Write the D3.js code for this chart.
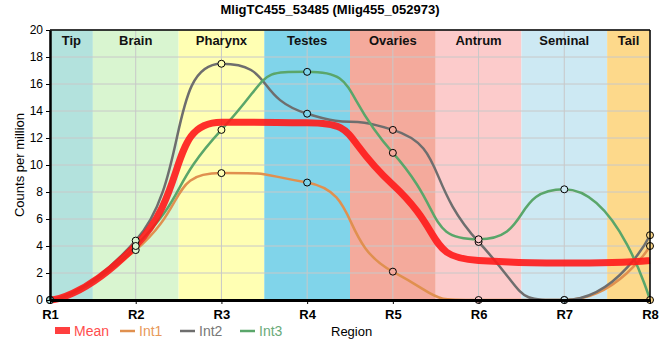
<!DOCTYPE html>
<html><head><meta charset="utf-8">
<script src="https://cdn.jsdelivr.net/npm/d3@7"></script>
<style>body{margin:0;background:#fff}svg{font-family:"Liberation Sans",Arial,sans-serif}</style>
</head><body><svg id="c" width="660" height="360"></svg>
<script>
const title = "MligTC455_53485 (Mlig455_052973)";
const positions = ["R1","R2","R3","R4","R5","R6","R7","R8"];
const regions = ["Tip","Brain","Pharynx","Testes","Ovaries","Antrum","Seminal","Tail"];
const regionColors = ["#b3e2dd","#d9f5d0","#ffffb3","#80d4ea","#f4aa9c","#fccbcb","#cde9f3","#fdd98b"];
const int1 = [0, 3.7, 9.4, 8.7, 2.1, 0, 0, 4.0];
const int2 = [0, 4.4, 17.5, 13.8, 12.6, 4.3, 0, 4.8];
const int3 = [0, 4.0, 12.6, 16.9, 10.9, 4.5, 8.2, 0];
const mean = int1.map((v,i)=>(v+int2[i]+int3[i])/3);
const yTicks = [0,2,4,6,8,10,12,14,16,18,20];

// spline curve: tangent through neighbours, flattened at extremes, control points at fraction K of interval
const K = 0.62, SF = 1.15;
function SplineCurve(context){ this._context = context; }
SplineCurve.prototype = {
  areaStart(){}, areaEnd(){},
  lineStart(){ this._pts = []; },
  point(x,y){ this._pts.push([+x,+y]); },
  lineEnd(){
    const p = this._pts, n = p.length, ctx = this._context;
    if(!n) return;
    const lc = new Array(n), rc = new Array(n);
    for(let i=0;i<n;i++){
      const [px,py] = p[i];
      if(i===0 || i===n-1){ lc[i]=[px,py]; rc[i]=[px,py]; continue; }
      const [lx,ly] = p[i-1], [nx,ny] = p[i+1];
      const s = SF*(ny-ly)/(nx-lx);
      let lcx = px - K*(px-lx), rcx = px + K*(nx-px);
      let lcy = py - s*(px-lcx), rcy = py + s*(rcx-px);
      if((lcy > ly && lcy > py) || (lcy < ly && lcy < py)){ lcy = (lcy>py)? Math.max(ly,py):Math.min(ly,py); rcy = py - (lcy-py)*(rcx-px)/(px-lcx); }
      if((rcy > ny && rcy > py) || (rcy < ny && rcy < py)){ rcy = (rcy>py)? Math.max(ny,py):Math.min(ny,py); lcy = py - (rcy-py)*(px-lcx)/(rcx-px); }
      lc[i]=[lcx,lcy]; rc[i]=[rcx,rcy];
    }
    ctx.moveTo(p[0][0], p[0][1]);
    for(let i=1;i<n;i++){
      ctx.bezierCurveTo(rc[i-1][0], rc[i-1][1], lc[i][0], lc[i][1], p[i][0], p[i][1]);
    }
  }
};
const splineCurve = ctx => new SplineCurve(ctx);

const svg = d3.select("#c");
const L=50,R=650,T=30,B=300;
const x = d3.scalePoint().domain(positions).range([L,R]);
const xi = d3.scaleLinear().domain([0,7]).range([L,R]);
const y = d3.scaleLinear().domain([0,20]).range([B,T]);

regions.forEach((r,i)=>{
  const x0 = Math.max(L, xi(i-0.5)), x1 = Math.min(R, xi(i+0.5));
  svg.append("rect").attr("x",x0).attr("y",T).attr("width",x1-x0).attr("height",B-T).attr("fill",regionColors[i]);
});
svg.append("g").selectAll("line").data(yTicks).join("line")
  .attr("x1",L).attr("x2",R).attr("y1",d=>y(d)).attr("y2",d=>y(d)).attr("stroke","#c8c8c8").attr("stroke-width",1);
svg.append("g").selectAll("line").data(positions).join("line")
  .attr("x1",d=>x(d)).attr("x2",d=>x(d)).attr("y1",T).attr("y2",B).attr("stroke","#c8c8c8").attr("stroke-width",1);
regions.forEach((r,i)=>{
  const x0 = Math.max(L, xi(i-0.5)), x1 = Math.min(R, xi(i+0.5));
  svg.append("text").attr("x",(x0+x1)/2).attr("y",T+15).attr("text-anchor","middle")
    .attr("font-size",13).attr("font-weight","bold").attr("fill","#111").text(r);
});

const line = d3.line().x((d,i)=>x(positions[i])).y(d=>y(d)).curve(splineCurve);
const series = [
  {name:"Int1", data:int1, color:"#e0904f", text:"#e8995a"},
  {name:"Int2", data:int2, color:"#6e6e6e", text:"#777777"},
  {name:"Int3", data:int3, color:"#5aa66a", text:"#6aaa7a"}
];
series.forEach(s=>{
  svg.append("path").attr("d",line(s.data)).attr("fill","none").attr("stroke",s.color).attr("stroke-width",2.5);
});
svg.append("path").attr("d",line(mean)).attr("fill","none").attr("stroke","#ff1a1a").attr("stroke-opacity",0.9).attr("stroke-width",7);
series.forEach(s=>{
  svg.append("g").selectAll("circle").data(s.data).join("circle")
    .attr("cx",(d,i)=>x(positions[i])).attr("cy",d=>y(d)).attr("r",3.5)
    .attr("fill",(d,i)=>regionColors[i]).attr("stroke","#000").attr("stroke-width",1);
});

svg.append("line").attr("x1",L).attr("x2",R).attr("y1",T).attr("y2",T).attr("stroke","#000").attr("stroke-width",1.5);
svg.append("line").attr("x1",R).attr("x2",R).attr("y1",T).attr("y2",B).attr("stroke","#000").attr("stroke-width",1.5);
const ya = svg.append("g").attr("transform",`translate(${L},0)`).call(d3.axisLeft(y).tickValues(yTicks).tickSize(4).tickSizeOuter(0));
ya.select(".domain").attr("stroke-width",2.5);
ya.selectAll("text").attr("font-size",12).attr("fill","#000").attr("font-family","Liberation Sans, Arial, sans-serif");
const xa = svg.append("g").attr("transform",`translate(0,${B})`).call(d3.axisBottom(x).tickSize(4).tickSizeOuter(0));
xa.select(".domain").attr("stroke-width",3);
xa.selectAll("text").attr("font-size",13).attr("font-weight","bold").attr("fill","#000").attr("font-family","Liberation Sans, Arial, sans-serif").attr("dy","0.9em");

svg.append("text").attr("x",330).attr("y",14).attr("text-anchor","middle").attr("font-size",13).attr("font-weight","bold").text(title);
svg.append("text").attr("transform","translate(24,165) rotate(-90)").attr("text-anchor","middle").attr("font-size",13).text("Counts per million");
svg.append("text").attr("x",331).attr("y",336).attr("font-size",13).text("Region");

const lg = svg.append("g");
lg.append("rect").attr("x",55).attr("y",327).attr("width",15).attr("height",7).attr("fill","#ff2a2a").attr("opacity",0.9);
lg.append("text").attr("x",74).attr("y",336).attr("font-size",14).attr("fill","#ff4d4d").text("Mean");
const lx=[120,180,240];
series.forEach((s,i)=>{
  lg.append("line").attr("x1",lx[i]).attr("x2",lx[i]+15).attr("y1",331).attr("y2",331).attr("stroke",s.color).attr("stroke-width",2.5);
  lg.append("text").attr("x",lx[i]+19).attr("y",336).attr("font-size",14).attr("fill",s.text).text(s.name);
});
</script></body></html>
